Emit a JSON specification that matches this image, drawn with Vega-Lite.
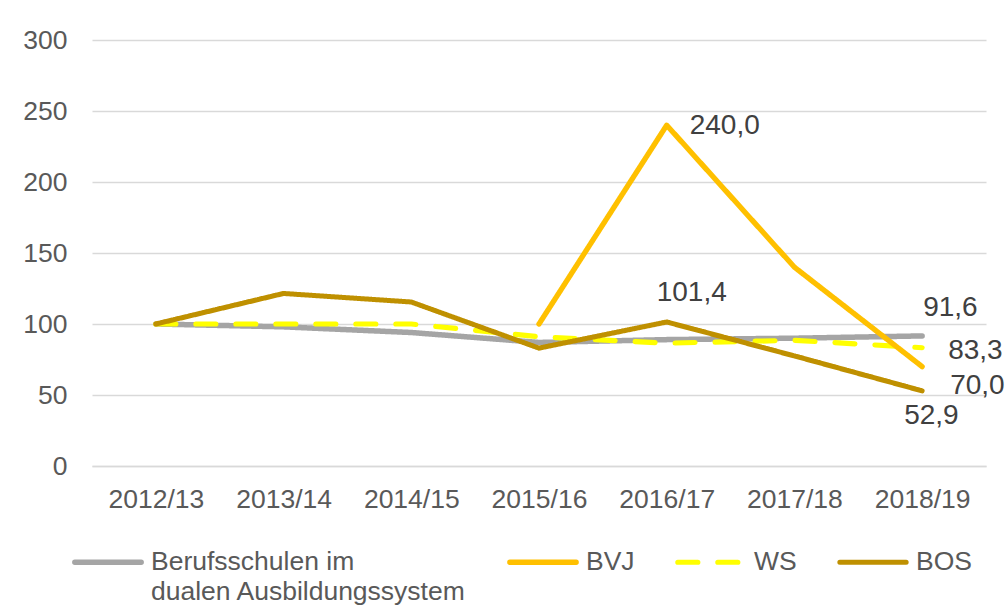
{
  "$schema": "https://vega.github.io/schema/vega-lite/v6.json",
  "width": 894,
  "height": 426,
  "autosize": {"type": "none"},
  "padding": {"left": 92, "top": 40, "right": 21, "bottom": 148},
  "background": "white",
  "config": {
    "view": {"stroke": null},
    "font": "Liberation Sans",
    "locale": {"number": {"decimal": ",", "thousands": ".", "grouping": [3], "currency": ["", " €"]}},
    "legend": {
      "orient": "none",
      "legendX": -20,
      "legendY": 486,
      "direction": "horizontal",
      "columnPadding": 32,
      "symbolType": "stroke",
      "symbolSize": 4400,
      "symbolStrokeWidth": 6,
      "labelFontSize": 26.5,
      "labelColor": "#595959",
      "labelLimit": 600,
      "labelOffset": 7,
      "padding": 0,
      "labelBaseline": "top"
    }
  },
  "data": {
    "values": [
      {"series": "Berufsschulen im dualen Ausbildungssystem", "year": "2012/13", "value": 100},
      {"series": "Berufsschulen im dualen Ausbildungssystem", "year": "2013/14", "value": 98},
      {"series": "Berufsschulen im dualen Ausbildungssystem", "year": "2014/15", "value": 94},
      {"series": "Berufsschulen im dualen Ausbildungssystem", "year": "2015/16", "value": 87},
      {"series": "Berufsschulen im dualen Ausbildungssystem", "year": "2016/17", "value": 89},
      {"series": "Berufsschulen im dualen Ausbildungssystem", "year": "2017/18", "value": 90},
      {"series": "Berufsschulen im dualen Ausbildungssystem", "year": "2018/19", "value": 91.6},
      {"series": "WS", "year": "2012/13", "value": 100},
      {"series": "WS", "year": "2013/14", "value": 100},
      {"series": "WS", "year": "2014/15", "value": 100},
      {"series": "WS", "year": "2015/16", "value": 91},
      {"series": "WS", "year": "2016/17", "value": 86.5},
      {"series": "WS", "year": "2017/18", "value": 88.5},
      {"series": "WS", "year": "2018/19", "value": 83.3},
      {"series": "BVJ", "year": "2015/16", "value": 100},
      {"series": "BVJ", "year": "2016/17", "value": 240},
      {"series": "BVJ", "year": "2017/18", "value": 140},
      {"series": "BVJ", "year": "2018/19", "value": 70},
      {"series": "BOS", "year": "2012/13", "value": 100},
      {"series": "BOS", "year": "2013/14", "value": 121.5},
      {"series": "BOS", "year": "2014/15", "value": 115.5},
      {"series": "BOS", "year": "2015/16", "value": 83},
      {"series": "BOS", "year": "2016/17", "value": 101.4},
      {"series": "BOS", "year": "2017/18", "value": 77.5},
      {"series": "BOS", "year": "2018/19", "value": 52.9}
    ]
  },
  "encoding": {
    "x": {
      "field": "year",
      "type": "ordinal",
      "scale": {"domain": ["2012/13", "2013/14", "2014/15", "2015/16", "2016/17", "2017/18", "2018/19"], "padding": 0.5},
      "axis": {
        "title": null,
        "labelAngle": 0,
        "labelFontSize": 26.5,
        "labelColor": "#595959",
        "ticks": false,
        "domainColor": "#D9D9D9",
        "domainWidth": 1.5,
        "labelPadding": 20,
        "grid": false
      }
    },
    "y": {
      "field": "value",
      "type": "quantitative",
      "scale": {"domain": [0, 300], "nice": false},
      "axis": {
        "title": null,
        "values": [0, 50, 100, 150, 200, 250, 300],
        "labelFontSize": 26.5,
        "labelColor": "#595959",
        "domain": false,
        "ticks": false,
        "gridColor": "#D9D9D9",
        "gridWidth": 1.5,
        "labelPadding": 25
      }
    }
  },
  "layer": [
    {
      "mark": {"type": "line", "strokeCap": "round", "strokeJoin": "round"},
      "encoding": {
        "color": {
          "field": "series",
          "type": "nominal",
          "scale": {
            "domain": ["Berufsschulen im dualen Ausbildungssystem", "BVJ", "WS", "BOS"],
            "range": ["#A5A5A5", "#FFC000", "#FFFF00", "#BF9000"]
          },
          "legend": {
            "title": null,
            "labelExpr": "datum.label == 'Berufsschulen im dualen Ausbildungssystem' ? ['Berufsschulen im', 'dualen Ausbildungssystem'] : [datum.label, ' ']",
            "encode": {
              "labels": {"update": {"dy": {"value": -13}, "lineHeight": {"value": 30}}},
              "symbols": {"update": {"strokeCap": {"value": "round"}}}
            }
          }
        },
        "strokeDash": {
          "field": "series",
          "type": "nominal",
          "scale": {
            "domain": ["Berufsschulen im dualen Ausbildungssystem", "BVJ", "WS", "BOS"],
            "range": [[1, 0], [1, 0], [20, 20], [1, 0]]
          },
          "legend": {
            "title": null,
            "labelExpr": "datum.label == 'Berufsschulen im dualen Ausbildungssystem' ? ['Berufsschulen im', 'dualen Ausbildungssystem'] : [datum.label, ' ']",
            "encode": {
              "labels": {"update": {"dy": {"value": -13}, "lineHeight": {"value": 30}}},
              "symbols": {"update": {"strokeCap": {"value": "round"}}}
            }
          }
        },
        "strokeWidth": {
          "field": "series",
          "type": "nominal",
          "scale": {
            "domain": ["Berufsschulen im dualen Ausbildungssystem", "BVJ", "WS", "BOS"],
            "range": [5.5, 5, 8, 6]
          },
          "legend": null
        }
      }
    },
    {
      "transform": [{"filter": "datum.series == 'BVJ' && datum.year == '2016/17'"}],
      "mark": {"type": "text", "align": "left", "baseline": "middle", "dx": 23, "dy": 1, "fontSize": 28, "color": "#404040"},
      "encoding": {"text": {"field": "value", "type": "quantitative", "format": ".1f"}}
    },
    {
      "transform": [{"filter": "datum.series == 'BOS' && datum.year == '2016/17'"}],
      "mark": {"type": "text", "align": "left", "baseline": "middle", "dx": -10, "dy": -29, "fontSize": 28, "color": "#404040"},
      "encoding": {"text": {"field": "value", "type": "quantitative", "format": ".1f"}}
    },
    {
      "transform": [{"filter": "datum.series == 'Berufsschulen im dualen Ausbildungssystem' && datum.year == '2018/19'"}],
      "mark": {"type": "text", "align": "left", "baseline": "middle", "dx": 1, "dy": -28, "fontSize": 28, "color": "#404040"},
      "encoding": {"text": {"field": "value", "type": "quantitative", "format": ".1f"}}
    },
    {
      "transform": [{"filter": "datum.series == 'WS' && datum.year == '2018/19'"}],
      "mark": {"type": "text", "align": "left", "baseline": "middle", "dx": 26, "dy": 3, "fontSize": 28, "color": "#404040"},
      "encoding": {"text": {"field": "value", "type": "quantitative", "format": ".1f"}}
    },
    {
      "transform": [{"filter": "datum.series == 'BVJ' && datum.year == '2018/19'"}],
      "mark": {"type": "text", "align": "left", "baseline": "middle", "dx": 28, "dy": 19, "fontSize": 28, "color": "#404040"},
      "encoding": {"text": {"field": "value", "type": "quantitative", "format": ".1f"}}
    },
    {
      "transform": [{"filter": "datum.series == 'BOS' && datum.year == '2018/19'"}],
      "mark": {"type": "text", "align": "left", "baseline": "middle", "dx": -18, "dy": 25, "fontSize": 28, "color": "#404040"},
      "encoding": {"text": {"field": "value", "type": "quantitative", "format": ".1f"}}
    }
  ]
}
